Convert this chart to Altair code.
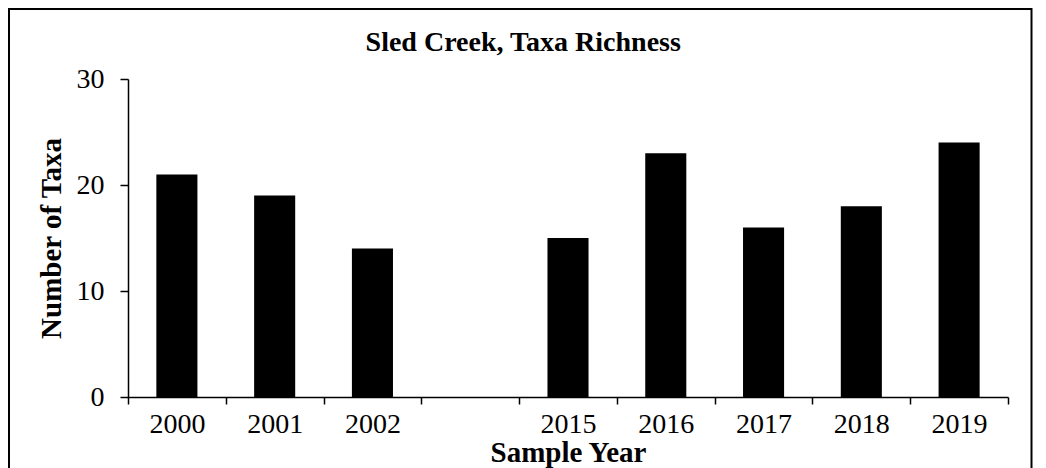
import altair as alt
import pandas as pd

# ---- data ----
years = ["2000", "2001", "2002", " ", "2015", "2016", "2017", "2018", "2019"]
taxa = [21, 19, 14, None, 15, 23, 16, 18, 24]
y_ticks = [0, 10, 20, 30]

title_text = "Sled Creek, Taxa Richness"
x_title = "Sample Year"
y_title = "Number of Taxa"

df = pd.DataFrame({"year": years, "taxa": taxa}).dropna()

FONT = "Liberation Serif"

bars = alt.Chart(df).mark_bar(
    color="black", width=alt.RelativeBandSize(0.42)
).encode(
    x=alt.X(
        "year:N",
        sort=years,
        scale=alt.Scale(domain=years, paddingInner=0, paddingOuter=0),
        axis=alt.Axis(
            title=x_title,
            labelAngle=0,
            tickBand="extent",
            tickSize=7,
            labelPadding=6,
            titlePadding=0,
        ),
    ),
    y=alt.Y(
        "taxa:Q",
        scale=alt.Scale(domain=[0, 30], nice=False),
        axis=alt.Axis(
            title=y_title,
            values=y_ticks,
            tickSize=8,
            labelPadding=16,
            titlePadding=10,
        ),
    ),
)

# outer chart frame (decorative border like the spreadsheet chart area)
frame = alt.Chart(pd.DataFrame({"k": [0]})).mark_rect(
    filled=False, stroke="black", strokeWidth=2
).encode(
    x=alt.value(-119),
    x2=alt.value(903.5),
    y=alt.value(-70),
    y2=alt.value(520),
)

chart = (
    alt.layer(frame, bars)
    .properties(
        width=880,
        height=318,
        title=alt.TitleParams(
            title_text,
            font=FONT,
            fontSize=28,
            fontWeight="bold",
            color="black",
            anchor="middle",
            frame="bounds",
            baseline="alphabetic",
            offset=-71,
            dx=3,
        ),
        padding={"left": 120, "top": 71, "right": 26, "bottom": 71},
        autosize=alt.AutoSizeParams(type="none"),
    )
    .configure_view(stroke=None)
    .configure_axis(
        grid=False,
        labelFont=FONT,
        labelFontSize=28,
        labelColor="black",
        titleFont=FONT,
        titleFontSize=29,
        titleFontWeight="bold",
        titleColor="black",
        domainColor="black",
        domainWidth=1.5,
        tickColor="black",
        tickWidth=1.5,
    )
)

chart.save("out.html", embed_options={"renderer": "svg", "actions": False})
